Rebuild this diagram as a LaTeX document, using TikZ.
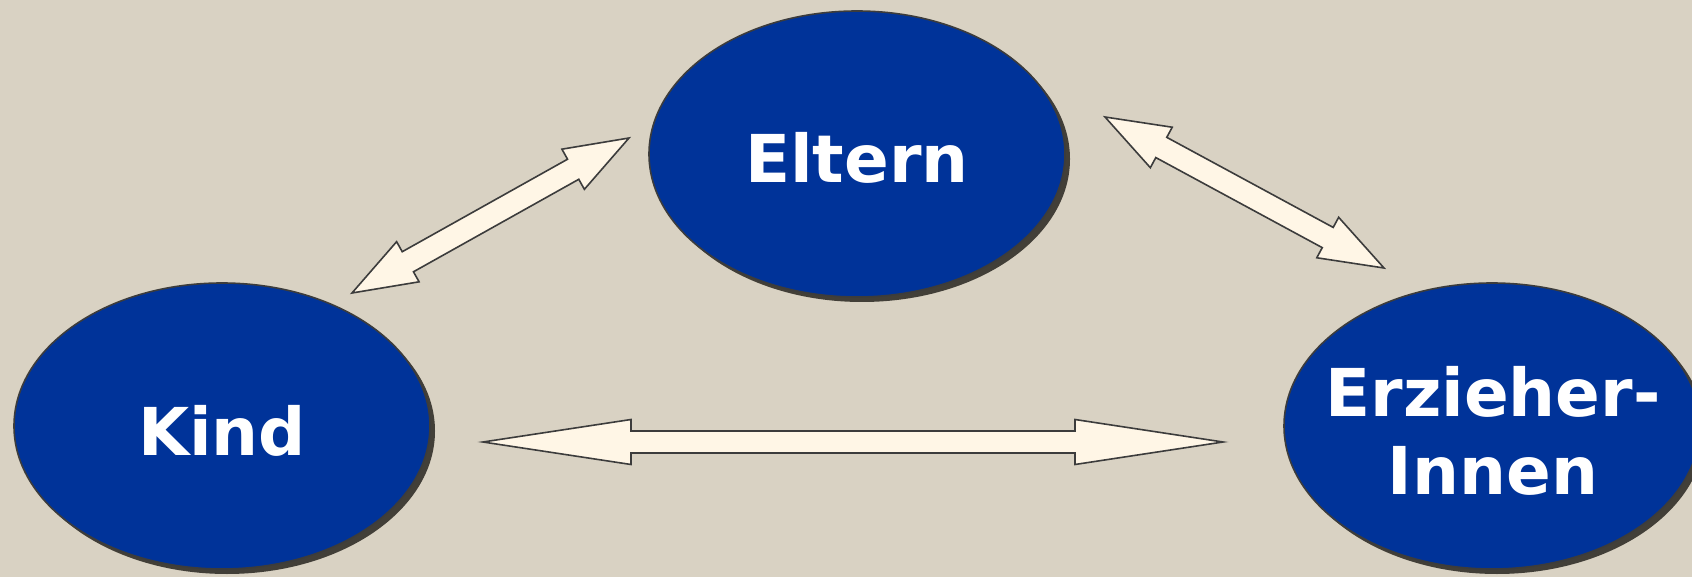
\documentclass[tikz,border=0pt]{standalone}
\usepackage{fontspec}
\setmainfont{DejaVu Sans}
\usetikzlibrary{shapes.geometric,shadows,calc}
\definecolor{bgcol}{HTML}{D9D2C3}
\definecolor{blobblue}{HTML}{003399}
\definecolor{shadecol}{HTML}{423F38}
\definecolor{creamcol}{HTML}{FFF6E6}
\definecolor{edgecol}{HTML}{3C3C3C}
\tikzset{
  blob/.style={ellipse, draw=edgecol, line width=1.6pt, fill=blobblue,
    minimum width=416pt, minimum height=286pt, inner sep=0pt,
    drop shadow={shadow xshift=5pt, shadow yshift=-5pt, fill=shadecol, opacity=1}},
  blobtext/.style={text=white, inner sep=0pt,
    font=\bfseries\fontsize{66}{78}\selectfont, align=center},
  barrow/.style={draw=edgecol, line width=1.6pt, fill=creamcol, line join=miter}
}
% double block arrow: tip A, tip B, head length, head half width, shaft half width
\newcommand\dblblockarrow[5]{%
  \draw[barrow] (#1)
    -- ($ ($(#1)!#3!(#2)$)!#4!90:(#2) $)
    -- ($ ($(#1)!#3!(#2)$)!#5!90:(#2) $)
    -- ($ ($(#2)!#3!(#1)$)!#5!-90:(#1) $)
    -- ($ ($(#2)!#3!(#1)$)!#4!-90:(#1) $)
    -- (#2)
    -- ($ ($(#2)!#3!(#1)$)!#4!90:(#1) $)
    -- ($ ($(#2)!#3!(#1)$)!#5!90:(#1) $)
    -- ($ ($(#1)!#3!(#2)$)!#5!-90:(#2) $)
    -- ($ ($(#1)!#3!(#2)$)!#4!-90:(#2) $)
    -- cycle;}
\begin{document}
\begin{tikzpicture}[x=1pt,y=-1pt]
  \useasboundingbox (0,0) rectangle (1692,577);
  \clip (0,0) rectangle (1692,577);
  \fill[bgcol] (0,0) rectangle (1692,577);

  \node[blob] (eltern) at (857,154) {};
  \node[blob] (kind) at (222,426) {};
  \node[blob] (erz) at (1492,426) {};
  \node[blobtext] (elterntxt) at (857,158) {Eltern};
  \node[blobtext] (kindtxt) at (222,431) {Kind};
  \node[blobtext] (erztxt) at (1493,431) {Erzieher-\\Innen};

  \coordinate (h1) at (483,442);
  \coordinate (h2) at (1223,442);
  \coordinate (d1a) at (352,293);
  \coordinate (d1b) at (629,138);
  \coordinate (d2a) at (1105,117);
  \coordinate (d2b) at (1384,268);

  \dblblockarrow{h1}{h2}{148pt}{22.5pt}{11pt}
  \dblblockarrow{d1a}{d1b}{64pt}{23pt}{11.5pt}
  \dblblockarrow{d2a}{d2b}{64pt}{23pt}{11.5pt}
\end{tikzpicture}
\end{document}
